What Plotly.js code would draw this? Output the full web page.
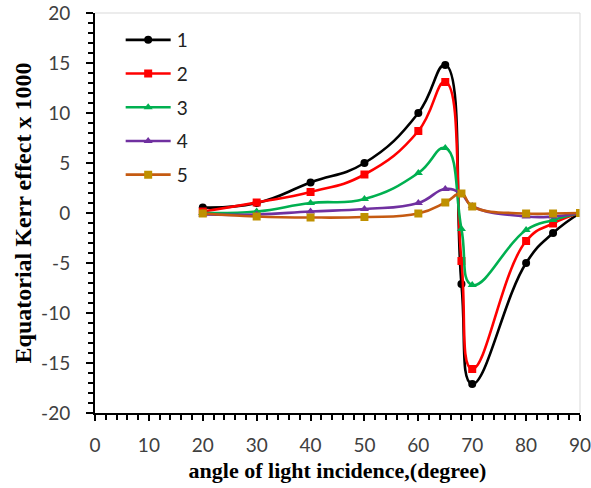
<!DOCTYPE html>
<html>
<head>
<meta charset="utf-8">
<script src="https://cdn.plot.ly/plotly-3.0.1.min.js"></script>
<style>html,body{margin:0;padding:0;background:#fff;}#chart{width:591px;height:488px;}</style>
</head>
<body>
<div id="chart"></div>
<script>
const angles = [20, 30, 40, 50, 60, 65, 68, 70, 80, 85, 90];
const series1 = [0.55, 1.0, 3.05, 5.0, 10.0, 14.8, -7.1, -17.1, -5.0, -2.0, 0.0];
const series2 = [0.15, 1.05, 2.1, 3.85, 8.2, 13.1, -4.8, -15.6, -2.8, -1.05, 0.0];
const series3 = [0.0, 0.15, 1.0, 1.4, 4.0, 6.5, -1.6, -7.2, -1.7, -0.7, 0.0];
const series4 = [-0.15, -0.15, 0.15, 0.4, 1.0, 2.4, 1.9, 0.7, -0.35, -0.35, 0.0];
const series5 = [-0.05, -0.35, -0.45, -0.4, -0.05, 1.05, 1.95, 0.65, -0.05, -0.05, 0.0];
const names = ['1', '2', '3', '4', '5'];
const lineColors = ['#000000', '#FF0000', '#00B050', '#7030A0', '#C55A11'];
const markerColors = ['#000000', '#FF0000', '#00B050', '#7030A0', '#BF9000'];
const symbols = ['circle', 'square', 'triangle-up', 'triangle-up', 'square'];
const allSeries = [series1, series2, series3, series4, series5];
const yTickVals = [-20, -15, -10, -5, 0, 5, 10, 15, 20];
const yTickText = ['-20', '-15', '-10', '-5', '0', '5', '10', '15', '20'];

const traces = allSeries.map((ys, i) => ({
  x: angles, y: ys, name: names[i], legendgroup: 'g' + i, type: 'scatter', mode: 'lines+markers',
  line: {color: lineColors[i], width: 2.6, shape: 'spline', smoothing: 1.3},
  marker: {color: markerColors[i], symbol: symbols[i], size: 8}
}));

const tickFont = {family: 'Lato, Open Sans, sans-serif', size: 19, color: '#404040'};

const layout = {
  width: 591, height: 488,
  margin: {l: 95, r: 11, t: 13, b: 75},
  paper_bgcolor: '#fff', plot_bgcolor: '#fff',
  showlegend: true,
  legend: {x: 0.055, y: 0.98, xanchor: 'left', yanchor: 'top', bgcolor: 'rgba(0,0,0,0)',
    font: {family: 'Lato, Open Sans, sans-serif', size: 19, color: '#222'},
    itemwidth: 45, tracegroupgap: 6},
  xaxis: {
    range: [0, 90], tick0: 0, dtick: 10, ticks: 'outside', ticklen: 6, tickwidth: 2, tickcolor: '#000',
    minor: {dtick: 2, ticks: 'outside', ticklen: 5, tickwidth: 2, tickcolor: '#000'},
    showline: true, linecolor: '#000', linewidth: 2, mirror: false, ticklabeloverflow: 'allow',
    showgrid: false, zeroline: false, tickfont: tickFont, ticklabelstandoff: 8,
    title: {text: '<b>angle of light incidence,(degree)</b>', font: {family: 'Liberation Serif, serif', size: 22, color: '#000'}, standoff: 8}
  },
  yaxis: {
    range: [-20, 20], tickvals: yTickVals, ticktext: yTickText, ticks: 'outside', ticklen: 7, tickwidth: 2, tickcolor: '#000',
    minor: {dtick: 1, ticks: 'outside', ticklen: 5, tickwidth: 2, tickcolor: '#000'},
    showline: true, linecolor: '#000', linewidth: 2,
    showgrid: false, zeroline: false, tickfont: tickFont, ticklabelstandoff: 12,
    title: {text: '<b>Equatorial Kerr effect x 1000</b>', font: {family: 'Liberation Serif, serif', size: 24, color: '#000'}, standoff: 3}
  },
  shapes: [
    {type: 'line', xref: 'paper', yref: 'paper', x0: 0, x1: 1, y0: 1, y1: 1, line: {color: '#D9D9D9', width: 1}},
    {type: 'line', xref: 'paper', yref: 'paper', x0: 1, x1: 1, y0: 0, y1: 1, line: {color: '#D9D9D9', width: 1}}
  ]
};

Plotly.newPlot('chart', traces, layout, {displayModeBar: false, staticPlot: true}).then(gd => {
  gd.querySelectorAll('.legend .legendlines path').forEach(p => p.setAttribute('d', 'M4,0h45'));
  gd.querySelectorAll('.legend .legendpoints path.scatterpts').forEach(p => {
    p.setAttribute('transform', 'translate(26.5,0)');
  });
});
</script>
</body>
</html>
